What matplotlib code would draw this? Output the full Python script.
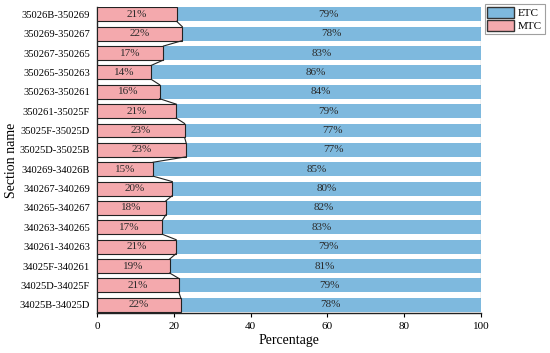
import matplotlib
matplotlib.use("Agg")
import matplotlib.pyplot as plt
from matplotlib.patches import Patch

plt.rcParams['font.family'] = ['Liberation Serif', 'DejaVu Serif']

sections = ["34025B-34025D", "34025D-34025F", "34025F-340261", "340261-340263",
            "340263-340265", "340265-340267", "340267-340269", "340269-34026B",
            "35025D-35025B", "35025F-35025D", "350261-35025F", "350263-350261",
            "350265-350263", "350267-350265", "350269-350267", "35026B-350269"]
mtc = [21.8, 21.3, 18.9, 20.6, 17.0, 17.9, 19.6, 14.6,
       23.2, 22.8, 20.6, 16.3, 14.1, 17.3, 22.2, 20.7]
etc = [100 - v for v in mtc]
mtc_labels = ["22%", "21%", "19%", "21%", "17%", "18%", "20%", "15%",
              "23%", "23%", "21%", "16%", "14%", "17%", "22%", "21%"]
etc_labels = ["78%", "79%", "81%", "79%", "83%", "82%", "80%", "85%",
              "77%", "77%", "79%", "84%", "86%", "83%", "78%", "79%"]

blue = "#7eb9de"
pink = "#f4a9ad"
h = 0.72

fig = plt.figure(figsize=(5.5, 3.53), dpi=100)
ax = fig.add_axes([0.1765, 0.1147, 0.8745 - 0.1765, 0.9793 - 0.1147])

y = list(range(len(sections)))
ax.barh(y, etc, left=mtc, height=h, color=blue, edgecolor='none', zorder=2)
ax.barh(y, mtc, height=h, color=pink, edgecolor='#222222', linewidth=0.8, zorder=3)

for i in range(len(y) - 1):
    ax.plot([mtc[i], mtc[i + 1]], [i + h / 2, i + 1 - h / 2], color='#222222', lw=0.8, zorder=4)
    ax.plot([100, 100], [i + h / 2, i + 1 - h / 2], color='#222222', lw=0.8, zorder=4)

for i in y:
    ax.text(mtc[i] / 2, i, mtc_labels[i], ha='center', va='center', fontsize=8, color='#2a2a2a', zorder=5)
    ax.text(mtc[i] + etc[i] / 2, i, etc_labels[i], ha='center', va='center', fontsize=8, color='#2a2a2a', zorder=5)

ax.set_xlim(0, 100)
ax.set_ylim(-0.4, len(sections) - 1 + 0.36)
ax.set_yticks(y)
ax.set_yticklabels(sections, fontsize=7.6)
ax.set_xticks([0, 20, 40, 60, 80, 100])
ax.tick_params(axis='x', labelsize=8, length=3, width=0.8, direction='out', pad=4)
ax.tick_params(axis='y', length=0, pad=5)
for s in ['top', 'right']:
    ax.spines[s].set_visible(False)
for s in ['left', 'bottom']:
    ax.spines[s].set_linewidth(1.0)
    ax.spines[s].set_color('#222222')
ax.set_xlabel("Percentage", fontsize=10, labelpad=2)
ax.set_ylabel("Section name", fontsize=10, labelpad=1.5)

handles = [Patch(facecolor=blue, edgecolor='#333333', label='ETC'),
           Patch(facecolor=pink, edgecolor='#333333', label='MTC')]
leg = fig.legend(handles=handles, loc='upper left', bbox_to_anchor=(0.881, 0.988),
                 fontsize=8, frameon=True, fancybox=False, edgecolor='#888888',
                 handlelength=2.4, handleheight=1.2, handletextpad=0.35,
                 borderpad=0.25, labelspacing=0.1, borderaxespad=0)
leg.get_frame().set_linewidth(0.8)

fig.savefig("out.png", dpi=100)
